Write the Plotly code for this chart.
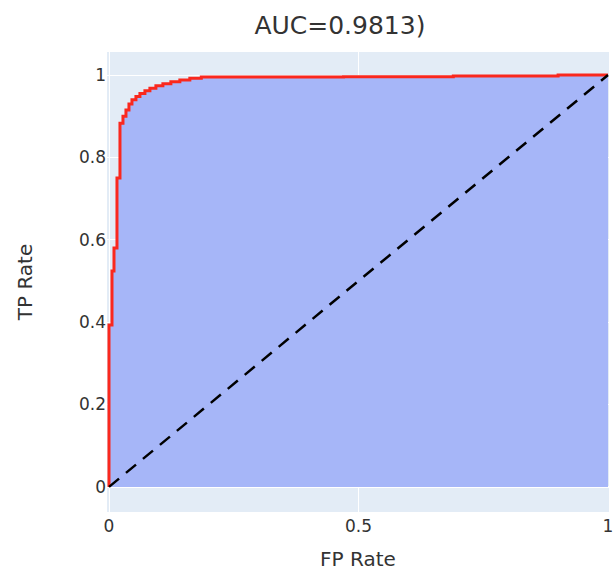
import plotly.graph_objects as go

# ROC curve corner points
fpr = [0.0, 0.0, 0.006, 0.006, 0.010, 0.010, 0.016, 0.016, 0.022, 0.022,
       0.028, 0.028, 0.034, 0.034, 0.040, 0.040, 0.046, 0.046, 0.054, 0.054,
       0.062, 0.062, 0.072, 0.072, 0.082, 0.082, 0.094, 0.094, 0.108, 0.108,
       0.124, 0.124, 0.142, 0.142, 0.162, 0.162, 0.185, 0.185, 0.47, 0.47,
       0.69, 0.69, 0.90, 0.90, 1.0]
tpr = [0.0, 0.393, 0.393, 0.524, 0.524, 0.58, 0.58, 0.75, 0.75, 0.883,
       0.883, 0.90, 0.90, 0.915, 0.915, 0.93, 0.93, 0.94, 0.94, 0.948,
       0.948, 0.955, 0.955, 0.962, 0.962, 0.968, 0.968, 0.974, 0.974, 0.979,
       0.979, 0.984, 0.984, 0.988, 0.988, 0.992, 0.992, 0.995, 0.995, 0.996,
       0.996, 0.998, 0.998, 1.0, 1.0]

diag_x = [0, 1]
diag_y = [0, 1]

title_text = "AUC=0.9813)"
x_title = "FP Rate"
y_title = "TP Rate"
x_ticks = [0, 0.5, 1]
x_tick_labels = ["0", "0.5", "1"]
y_ticks = [0, 0.2, 0.4, 0.6, 0.8, 1]
y_tick_labels = ["0", "0.2", "0.4", "0.6", "0.8", "1"]

fig = go.Figure()
fig.add_trace(go.Scatter(
    x=fpr, y=tpr, mode="lines", fill="tozeroy",
    fillcolor="rgb(166,182,248)",
    line=dict(color="rgb(250,40,30)", width=3),
    showlegend=False, hoverinfo="skip"))
fig.add_trace(go.Scatter(
    x=diag_x, y=diag_y, mode="lines",
    line=dict(color="black", width=2.5, dash="13px,9px"),
    showlegend=False, hoverinfo="skip"))

font_family = "DejaVu Sans"
text_color = "#333333"

fig.update_layout(
    width=614, height=571,
    margin=dict(l=107, r=5, t=52, b=59, autoexpand=False),
    paper_bgcolor="white",
    plot_bgcolor="rgb(227,236,246)",
    font=dict(family=font_family, color=text_color, size=16),
    title=dict(text=title_text, x=0.464, xref="paper", xanchor="center",
               y=0.955, yref="container", yanchor="middle",
               font=dict(size=25, family=font_family, color=text_color)),
    xaxis=dict(range=[-0.004, 1.002], tickvals=x_ticks, ticktext=x_tick_labels,
               gridcolor="white", gridwidth=1, zeroline=False,
               showline=False, ticks="", ticklabelstandoff=2,
               ticklabeloverflow="allow",
               automargin=False,
               tickfont=dict(size=17),
               title=dict(text=x_title, font=dict(size=20), standoff=20)),
    yaxis=dict(range=[-0.061, 1.056], tickvals=y_ticks, ticktext=y_tick_labels,
               gridcolor="white", gridwidth=1, zeroline=True,
               zerolinecolor="white", zerolinewidth=1.5,
               automargin=False,
               showline=False, ticks="", tickfont=dict(size=17),
               title=dict(text=y_title, font=dict(size=20), standoff=40)),
)

fig.write_html("out.html")
